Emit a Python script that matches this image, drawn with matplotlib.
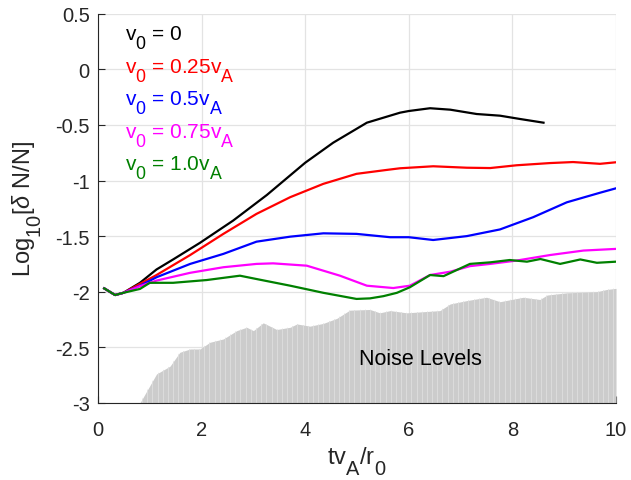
import numpy as np
import matplotlib
matplotlib.use("Agg")
import matplotlib.pyplot as plt
import matplotlib._mathtext as mt

# MATLAB-like larger, lower subscripts
mt.SHRINK_FACTOR = 0.85
mt.FontConstantsBase.sub1 = 0.9
mt.FontConstantsBase.subdrop = 0.5
mt.FontConstantsBase.script_space = 0.02

plt.rcParams['font.family'] = ['Liberation Sans', 'DejaVu Sans']
plt.rcParams['mathtext.fontset'] = 'custom'
plt.rcParams['mathtext.rm'] = 'Liberation Sans'
plt.rcParams['mathtext.it'] = 'Liberation Sans:italic'
plt.rcParams['mathtext.default'] = 'regular'

# ---- data ----
t_black = [0.12, 0.33, 0.49, 0.81, 1.13, 1.45, 1.97, 2.61, 3.26, 4.0, 4.54, 5.19, 5.83, 6.0, 6.41, 6.8, 7.31, 7.76, 8.15, 8.6]
y_black = [-1.97, -2.03, -2.01, -1.92, -1.80, -1.71, -1.56, -1.36, -1.13, -0.84, -0.66, -0.48, -0.39, -0.375, -0.35, -0.363, -0.402, -0.417, -0.447, -0.48]

t_red = [0.12, 0.33, 0.49, 0.81, 1.13, 1.78, 2.42, 3.06, 3.71, 4.35, 4.99, 5.57, 5.83, 6.47, 7.12, 7.57, 8.08, 8.73, 9.17, 9.69, 10.0]
y_red = [-1.97, -2.03, -2.01, -1.93, -1.85, -1.67, -1.48, -1.30, -1.15, -1.03, -0.94, -0.905, -0.89, -0.872, -0.885, -0.888, -0.863, -0.843, -0.834, -0.85, -0.836]

t_blue = [0.12, 0.33, 0.49, 0.81, 1.13, 1.78, 2.42, 3.06, 3.71, 4.35, 4.99, 5.64, 6.0, 6.47, 7.12, 7.76, 8.4, 9.05, 9.69, 10.0]
y_blue = [-1.97, -2.03, -2.01, -1.946, -1.87, -1.75, -1.66, -1.55, -1.505, -1.475, -1.48, -1.51, -1.51, -1.535, -1.50, -1.44, -1.33, -1.196, -1.11, -1.07]

t_mag = [0.12, 0.33, 0.49, 0.81, 1.13, 1.78, 2.42, 3.06, 3.38, 4.03, 4.67, 5.19, 5.70, 6.02, 6.41, 6.80, 7.18, 7.57, 8.08, 8.73, 9.37, 10.0]
y_mag = [-1.97, -2.03, -2.01, -1.95, -1.90, -1.83, -1.78, -1.75, -1.745, -1.766, -1.856, -1.946, -1.967, -1.946, -1.85, -1.82, -1.77, -1.75, -1.72, -1.67, -1.63, -1.615]

t_green = [0.12, 0.33, 0.49, 0.81, 1.0, 1.45, 2.10, 2.74, 3.06, 3.71, 4.35, 4.99, 5.25, 5.51, 5.77, 6.02, 6.41, 6.67, 7.18, 7.57, 7.95, 8.28, 8.54, 8.92, 9.31, 9.63, 10.0]
y_green = [-1.97, -2.03, -2.01, -1.975, -1.92, -1.92, -1.895, -1.856, -1.886, -1.946, -2.01, -2.065, -2.06, -2.04, -2.01, -1.96, -1.85, -1.86, -1.75, -1.736, -1.715, -1.73, -1.706, -1.75, -1.71, -1.74, -1.73]

t_noise = [0.81, 1.13, 1.39, 1.58, 1.78, 1.97, 2.16, 2.42, 2.68, 2.87, 3.0, 3.19, 3.45, 3.71, 3.84, 4.09, 4.35, 4.61, 4.86, 5.25, 5.44, 5.64, 5.96, 6.6, 6.8, 7.12, 7.5, 7.76, 8.21, 8.53, 8.67, 9.05, 9.63, 9.82, 10.0]
y_noise = [-3.0, -2.74, -2.67, -2.545, -2.515, -2.515, -2.455, -2.425, -2.35, -2.32, -2.35, -2.28, -2.34, -2.32, -2.29, -2.31, -2.285, -2.24, -2.166, -2.16, -2.19, -2.17, -2.19, -2.17, -2.11, -2.08, -2.05, -2.09, -2.05, -2.07, -2.03, -2.01, -2.0, -1.98, -1.97]

labels = ['$v_0$ = 0', '$v_0$ = 0.25$v_A$', '$v_0$ = 0.5$v_A$', '$v_0$ = 0.75$v_A$', '$v_0$ = 1.0$v_A$']
colors = ['black', '#ff0000', '#0000ff', '#ff00ff', '#008000']

xticks = [0, 2, 4, 6, 8, 10]
yticks = [-3, -2.5, -2, -1.5, -1, -0.5, 0, 0.5]

# ---- figure ----
fig = plt.figure(figsize=(6.31, 4.81), dpi=100)
ax = fig.add_axes([0.1553, 0.1603, 0.821, 0.8091])

ax.set_xlim(0, 10)
ax.set_ylim(-3, 0.5)
ax.set_xticks(xticks)
ax.set_yticks(yticks)
ax.set_yticklabels([('%g' % v) for v in yticks])
ax.grid(True, color='#e3e3e3', linewidth=0.9)
ax.set_axisbelow(True)

poly = ax.fill_between(t_noise, -3, y_noise, color='#cccccc', linewidth=0, zorder=1)
vl = ax.vlines(np.arange(0.85, 10.0, 0.1), -3, 0.5, color='#dedede', linewidth=0.6, zorder=1.5)
vl.set_clip_path(poly.get_paths()[0], ax.transData)

series = [(t_black, y_black), (t_red, y_red), (t_blue, y_blue), (t_mag, y_mag), (t_green, y_green)]
for (t, y), c in zip(series, colors):
    ax.plot(t, y, color=c, linewidth=1.6, zorder=3)

for i, (lab, c) in enumerate(zip(labels, colors)):
    ax.text(0.053, 0.94 - i * 0.0835, lab, color=c, fontsize=15, transform=ax.transAxes,
            ha='left', va='center')

ax.text(6.22, -2.6, 'Noise Levels', fontsize=15.5, ha='center', va='center', color='black', zorder=4)

for s in ['top', 'right']:
    ax.spines[s].set_visible(False)
for s in ['left', 'bottom']:
    ax.spines[s].set_color('#262626')
    ax.spines[s].set_linewidth(0.8)
ax.tick_params(direction='in', length=5, width=0.8, colors='#262626', labelsize=14.5, pad=6)
ax.tick_params(axis='x', pad=12)

ax.set_xlabel('t$v_A$/$r_0$', fontsize=17, color='#262626', labelpad=4)
ax.set_ylabel('Log$_{10}$[$\\mathit{\\delta}$ N/N]', fontsize=17, color='#262626', labelpad=8)

fig.savefig('out.png', dpi=100)
